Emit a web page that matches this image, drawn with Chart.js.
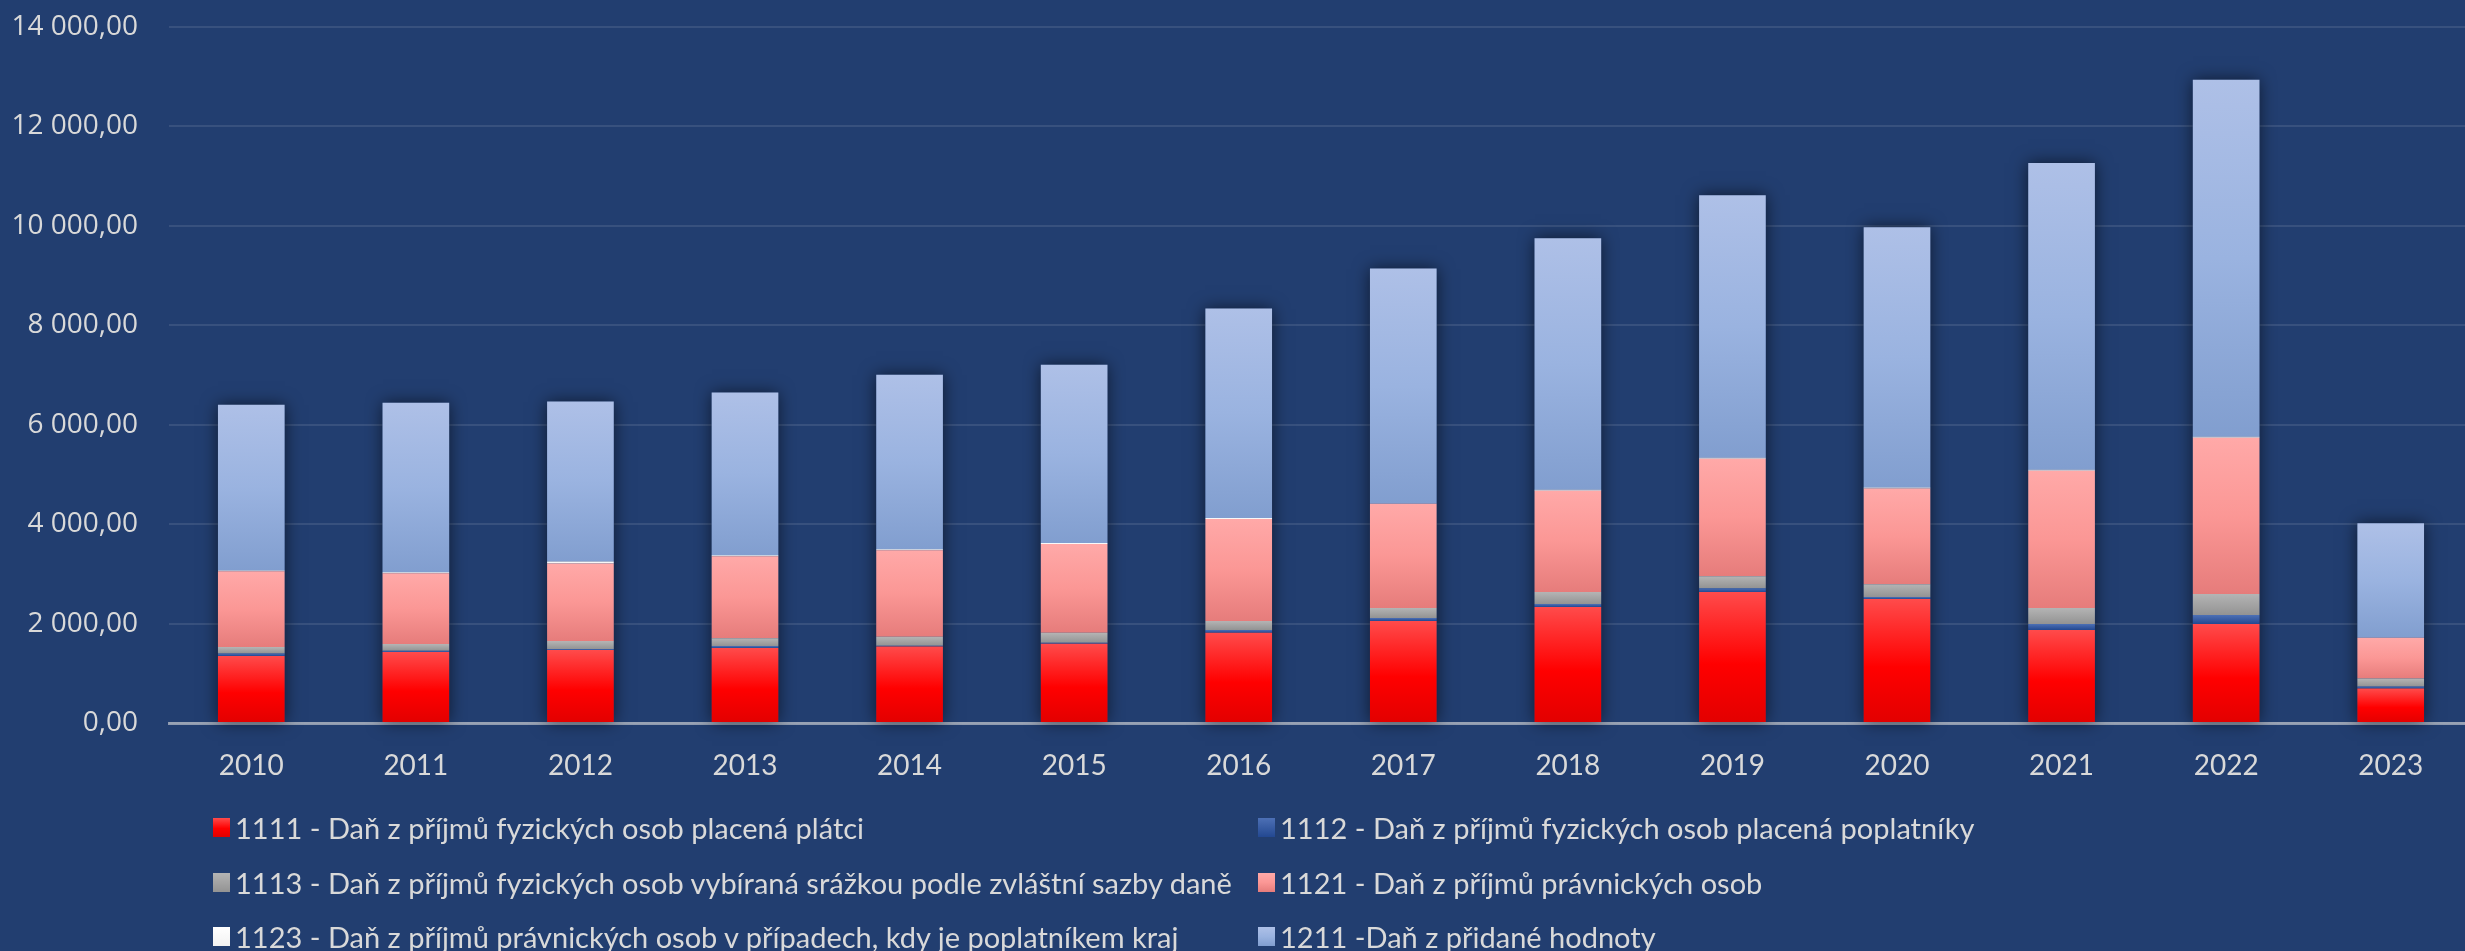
<!DOCTYPE html>
<html>
<head>
<meta charset="utf-8">
<script src="https://cdn.jsdelivr.net/npm/chart.js@4.4.1/dist/chart.umd.min.js"></script>
<style>
  html, body { margin:0; padding:0; background:#223E70; overflow:hidden; width:2465px; height:951px; }
  #wrap { position:absolute; left:0; top:0; width:2473px; height:951px; }
  #legend { position:absolute; left:213px; top:810px; display:grid; grid-template-columns:1045px auto;
            grid-auto-rows:54.5px; font-family:Lato, sans-serif; font-size:29px; color:#d9d9d9; }
  .item { display:flex; align-items:center; height:35px; line-height:35px; white-space:nowrap; }
  .box { width:17px; height:19px; margin-right:5px; flex:none; }
</style>
</head>
<body>
<div id="wrap"><canvas id="c" width="2473" height="951"></canvas></div>
<div id="legend"></div>
<script>
const categories = ['2010','2011','2012','2013','2014','2015','2016','2017','2018','2019','2020','2021','2022','2023'];

const labels1111 = '1111 - Daň z příjmů fyzických osob placená plátci';
const labels1112 = '1112 - Daň z příjmů fyzických osob placená poplatníky';
const labels1113 = '1113 - Daň z příjmů fyzických osob vybíraná srážkou podle zvláštní sazby daně';
const labels1121 = '1121 - Daň z příjmů právnických osob';
const labels1123 = '1123 - Daň z příjmů právnických osob v případech, kdy je poplatníkem kraj';
const labels1211 = '1211 -Daň z přidané hodnoty';

const s1111 = [1347,1427,1467,1507,1540,1593,1813,2053,2333,2633,2493,1873,1993,693];
const s1112 = [53,27,20,40,15,20,60,60,60,80,40,120,180,40];
const s1113 = [127,133,160,160,180,200,180,200,240,240,260,320,420,160];
const s1121 = [1523,1423,1563,1647,1742,1787,2052,2096,2037,2362,1922,2762,3147,820];
const s1123 = [20,20,40,20,20,20,20,0,20,20,20,20,20,0];
const s1211 = [3330,3414,3215,3272,3510,3588,4211,4732,5062,5282,5238,6167,7180,2307];

const yTickLabels = ['0,00','2 000,00','4 000,00','6 000,00','8 000,00','10 000,00','12 000,00','14 000,00'];

const BG = '#223E70';
const TXT = '#d9d9d9';

const stops1111 = [[0,'#ff4b4b'],[0.55,'#ff0000'],[1,'#e20000']];
const stops1112 = [[0,'#4d70b5'],[1,'#234891']];
const stops1113 = [[0,'#b4b4b4'],[1,'#939393']];
const stops1121 = [[0,'#ffa9a8'],[0.5,'#fb9795'],[1,'#e67c7b']];
const stops1123 = [[0,'#ffffff'],[1,'#f2f2f2']];
const stops1211 = [[0,'#aec0e7'],[0.5,'#9ab3e0'],[1,'#819ecf']];

function makeBg(stops) {
  return function(ctx) {
    const chart = ctx.chart;
    if (!chart.chartArea || ctx.type !== 'data') return stops[stops.length - 1][1];
    const ds = chart.data.datasets;
    let start = 0;
    for (let k = 0; k < ctx.datasetIndex; k++) start += ds[k].data[ctx.dataIndex];
    const end = start + ds[ctx.datasetIndex].data[ctx.dataIndex];
    const ys = chart.scales.y;
    const y0 = ys.getPixelForValue(end), y1 = ys.getPixelForValue(start);
    if (!(y1 > y0)) return stops[0][1];
    const g = chart.ctx.createLinearGradient(0, y0, 0, y1);
    stops.forEach(s => g.addColorStop(s[0], s[1]));
    return g;
  };
}

function cssGrad(stops) {
  return 'linear-gradient(to bottom,' + stops.map(s => s[1] + ' ' + (s[0]*100) + '%').join(',') + ')';
}

const seriesDefs = [
  [labels1111, s1111, stops1111],
  [labels1112, s1112, stops1112],
  [labels1113, s1113, stops1113],
  [labels1121, s1121, stops1121],
  [labels1123, s1123, stops1123],
  [labels1211, s1211, stops1211]
];

const shadowPlugin = {
  id: 'stackShadow',
  beforeDatasetsDraw(chart) {
    const c = chart.ctx;
    const metas = chart.data.datasets.map((d, i) => chart.getDatasetMeta(i));
    c.save();
    c.shadowColor = 'rgba(0,0,0,0.6)';
    c.shadowBlur = 16;
    c.fillStyle = BG;
    for (let j = 0; j < categories.length; j++) {
      let top = Infinity, bottom = -Infinity, x = 0, w = 0;
      metas.forEach(m => {
        const el = m.data[j];
        if (!el) return;
        top = Math.min(top, el.y, el.base);
        bottom = Math.max(bottom, el.y, el.base);
        x = el.x; w = el.width;
      });
      c.fillRect(x - w / 2, top, w, bottom - top);
    }
    c.restore();
  }
};

const chart = new Chart(document.getElementById('c'), {
  type: 'bar',
  data: {
    labels: categories,
    datasets: seriesDefs.map(d => ({
      label: d[0],
      data: d[1],
      backgroundColor: makeBg(d[2]),
      borderWidth: 0,
      barPercentage: 0.405,
      categoryPercentage: 1.0
    }))
  },
  options: {
    responsive: false,
    animation: false,
    devicePixelRatio: 1,
    layout: { padding: { left: 0, right: 0, top: 27, bottom: 0 } },
    plugins: { legend: { display: false }, tooltip: { enabled: false } },
    scales: {
      x: {
        stacked: true,
        z: 1,
        grid: { display: false, drawTicks: false },
        border: { display: true, color: 'rgba(217,217,217,0.6)', width: 3 },
        ticks: { color: TXT, padding: 26, font: { family: 'Lato', size: 28 } },
        afterFit(s) { s.height = 228; s.paddingLeft = 0; s.paddingRight = 0; }
      },
      y: {
        stacked: true,
        min: 0, max: 14000,
        grid: { color: 'rgba(255,255,255,0.1)', lineWidth: 2, drawTicks: false },
        border: { display: false },
        ticks: {
          stepSize: 2000, padding: 31, color: TXT,
          font: { family: 'Open Sans', size: 28 },
          callback: (v, i) => yTickLabels[i]
        },
        afterFit(s) { s.width = 169; s.paddingTop = 0; s.paddingBottom = 0; }
      }
    }
  },
  plugins: [shadowPlugin]
});

const legendEl = document.getElementById('legend');
seriesDefs.forEach(d => {
  const item = document.createElement('div');
  item.className = 'item';
  const box = document.createElement('span');
  box.className = 'box';
  box.style.background = cssGrad(d[2]);
  const t = document.createElement('span');
  t.textContent = d[0];
  item.appendChild(box);
  item.appendChild(t);
  legendEl.appendChild(item);
});
</script>
</body>
</html>
